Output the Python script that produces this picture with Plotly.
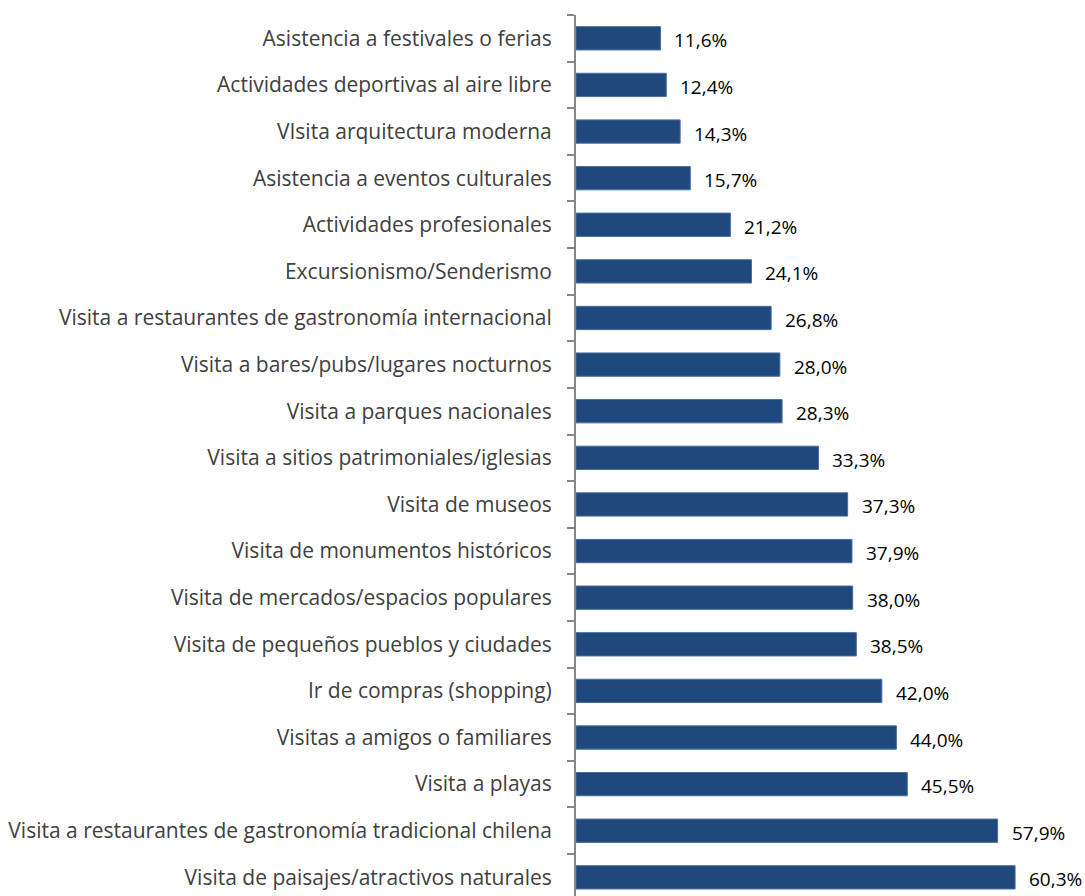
import plotly.graph_objects as go

# Activities, listed from bottom to top of the chart
actividades = [
    "Visita de paisajes/atractivos naturales",
    "Visita a restaurantes de gastronomía tradicional chilena",
    "Visita a playas",
    "Visitas a amigos o familiares",
    "Ir de compras (shopping)",
    "Visita de pequeños pueblos y ciudades",
    "Visita de mercados/espacios populares",
    "Visita de monumentos históricos",
    "Visita de museos",
    "Visita a sitios patrimoniales/iglesias",
    "Visita a parques nacionales",
    "Visita a bares/pubs/lugares nocturnos",
    "Visita a restaurantes de gastronomía internacional",
    "Excursionismo/Senderismo",
    "Actividades profesionales",
    "Asistencia a eventos culturales",
    "VIsita arquitectura moderna",
    "Actividades deportivas al aire libre",
    "Asistencia a festivales o ferias",
]
porcentajes = [60.3, 57.9, 45.5, 44.0, 42.0, 38.5, 38.0, 37.9, 37.3, 33.3,
               28.3, 28.0, 26.8, 24.1, 21.2, 15.7, 14.3, 12.4, 11.6]

FONT = "Open Sans"

fig = go.Figure(
    go.Bar(
        x=porcentajes,
        y=actividades,
        orientation="h",
        width=0.5,
        marker=dict(color="#1F497D", line=dict(color="#4A6E9C", width=1)),
        hoverinfo="skip",
    )
)

for act, v in zip(actividades, porcentajes):
    fig.add_annotation(
        x=v, y=act, xref="x", yref="y",
        text=f"{v:.1f}%".replace(".", ","),
        showarrow=False, xanchor="left", xshift=12, yshift=-2,
        font=dict(family=FONT, size=19, color="#000000"),
    )

fig.update_layout(
    width=1085, height=896,
    margin=dict(l=576, r=0, t=15, b=0),
    plot_bgcolor="white", paper_bgcolor="white",
    showlegend=False,
    bargap=0.5,
)
fig.update_xaxes(range=[0, 69.9], visible=False, showgrid=False, zeroline=False)
fig.update_yaxes(
    type="category",
    categoryorder="array", categoryarray=actividades,
    range=[-0.4, 18.5],
    showline=True, linecolor="#868686", linewidth=2,
    ticks="outside", tickson="boundaries", ticklen=7, tickcolor="#868686", tickwidth=2,
    ticklabelstandoff=18,
    showgrid=False, zeroline=False,
    tickfont=dict(family=FONT, size=21, color="#404040"),
)

fig.write_html("out.html")
